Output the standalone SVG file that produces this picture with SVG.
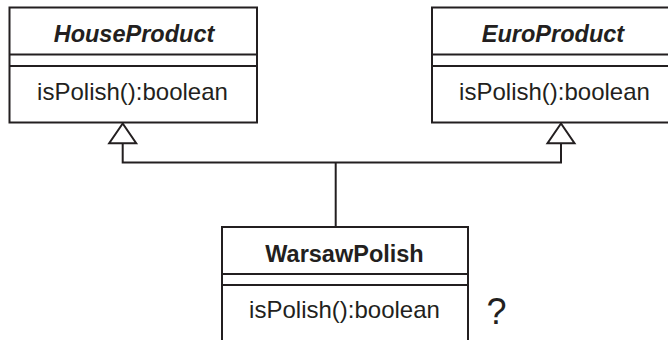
<svg xmlns="http://www.w3.org/2000/svg" width="668" height="340" viewBox="0 0 668 340">
<style>
.box{fill:#fff;stroke:#231f20;stroke-width:2}
.ln{fill:none;stroke:#231f20;stroke-width:2}
.tri{fill:#fff;stroke:#231f20;stroke-width:2;stroke-linejoin:miter}
text{font-family:"Liberation Sans",Arial,sans-serif;font-size:24px;fill:#231f20;text-anchor:middle}
.abs{font-weight:bold;font-style:italic;font-size:23.5px}
.name{font-weight:bold;font-size:23.5px}
</style>
<g id="connectors">
<polyline class="ln" points="122.7,143 122.7,162.5 561,162.5 561,143"/>
<line class="ln" x1="335.7" y1="162.5" x2="335.7" y2="227"/>
<polygon class="tri" points="122.7,123.5 109.2,143.3 136.2,143.3"/>
<polygon class="tri" points="561,123.5 547.5,143.3 574.5,143.3"/>
</g>
<g id="HouseProduct">
<rect class="box" x="9.5" y="7.5" width="247.5" height="115"/>
<line class="ln" x1="9.5" y1="54.5" x2="257" y2="54.5"/>
<line class="ln" x1="9.5" y1="66" x2="257" y2="66"/>
<text class="abs" x="134" y="41.5">HouseProduct</text>
<text x="132.5" y="100">isPolish():boolean</text>
</g>
<g id="EuroProduct">
<rect class="box" x="432" y="7.5" width="247" height="115"/>
<line class="ln" x1="432" y1="54.5" x2="679" y2="54.5"/>
<line class="ln" x1="432" y1="66" x2="679" y2="66"/>
<text class="abs" x="553" y="41.5">EuroProduct</text>
<text x="554.5" y="100">isPolish():boolean</text>
</g>
<g id="WarsawPolish">
<rect class="box" x="222" y="227" width="246" height="120"/>
<line class="ln" x1="222" y1="274" x2="468" y2="274"/>
<line class="ln" x1="222" y1="285" x2="468" y2="285"/>
<text class="name" x="344.5" y="261.5">WarsawPolish</text>
<text x="344.5" y="318">isPolish():boolean</text>
</g>
<text x="496.5" y="324" style="font-size:36px">?</text>
</svg>
